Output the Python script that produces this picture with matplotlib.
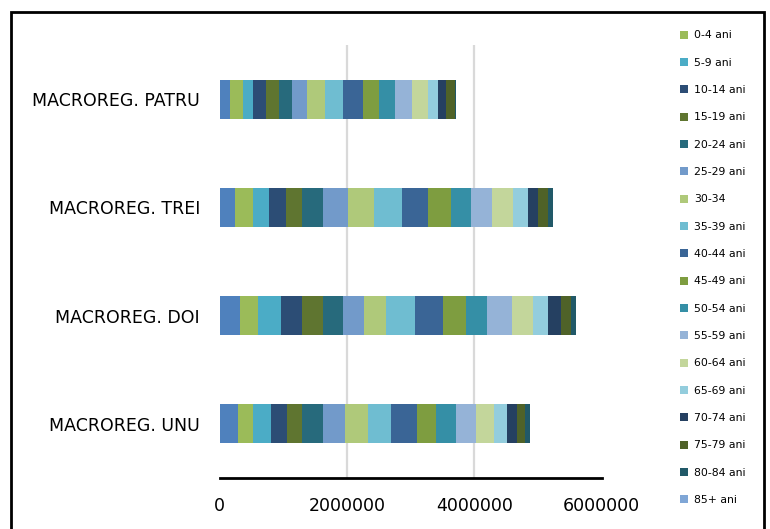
import matplotlib
matplotlib.use("Agg")
import matplotlib.pyplot as plt
from matplotlib.patches import Rectangle

# Macro-regions, bottom to top
regions = ["MACROREG. UNU", "MACROREG. DOI", "MACROREG. TREI", "MACROREG. PATRU"]

# Stacked series; the first one has no legend entry
series_names = ["", "0-4 ani", "5-9 ani", "10-14 ani", "15-19 ani", "20-24 ani",
                "25-29 ani", "30-34", "35-39 ani", "40-44 ani", "45-49 ani",
                "50-54 ani", "55-59 ani", "60-64 ani", "65-69 ani", "70-74 ani",
                "75-79 ani", "80-84 ani", "85+ ani"]

# Values per region, in persons, one per series
unu = [283000, 247000, 283000, 240000, 240000, 325000, 361000, 361000, 361000,
       404000, 292000, 320000, 319000, 283000, 199000, 162000, 121000, 72000, 0]
doi = [325000, 283000, 361000, 324000, 325000, 325000, 319000, 357000, 444000,
       444000, 368000, 319000, 404000, 324000, 242000, 198000, 163000, 79000, 0]
trei = [240000, 283000, 251000, 278000, 247000, 319000, 393000, 413000, 440000,
        408000, 357000, 325000, 319000, 330000, 240000, 157000, 163000, 72000, 0]
patru = [162000, 204000, 163000, 204000, 204000, 204000, 236000, 276000, 289000,
         319000, 247000, 245000, 278000, 247000, 151000, 126000, 137000, 16000, 0]

series_colors = ["#4F81BD", "#9BBB59", "#4BACC6", "#2C4D75", "#5F7530", "#276A7C",
                 "#729ACA", "#AFC97A", "#6FBDD1", "#3A6596", "#7E9D40", "#358FA6",
                 "#95B3D7", "#C3D69B", "#93CDDD", "#254061", "#4F6228", "#215968",
                 "#7FA6D6"]

x_ticks = [0, 2000000, 4000000, 6000000]
x_tick_labels = ["0", "2000000", "4000000", "6000000"]

W, H = 770, 529
fig = plt.figure(figsize=(W / 100, H / 100), dpi=100)
ax = fig.add_axes([219.5 / W, 1 - 478 / H, (601.5 - 219.5) / W, (478 - 45) / H])

rows = [unu, doi, trei, patru]
ypos = list(range(len(regions)))
left = [0] * len(regions)
handles = []
for i, (name, color) in enumerate(zip(series_names, series_colors)):
    vals = [r[i] for r in rows]
    bars = ax.barh(ypos, vals, left=left, height=0.36, color=color,
                   edgecolor="none", zorder=3)
    if name:
        handles.append((bars, name))
    left = [l + v for l, v in zip(left, vals)]

# interior vertical gridlines only
for v in x_ticks[1:-1]:
    ax.axvline(v, color="#D9D9D9", lw=1.6, zorder=1)

ax.set_xlim(x_ticks[0], x_ticks[-1])
ax.set_ylim(-0.5, len(regions) - 0.5)
ax.set_xticks(x_ticks)
ax.set_xticklabels(x_tick_labels, fontsize=12.5)
ax.set_yticks(ypos)
ax.set_yticklabels(regions, fontsize=12.5)
ax.tick_params(axis="x", length=0, pad=14)
ax.tick_params(axis="y", length=0, pad=14)
for side in ("left", "top", "right"):
    ax.spines[side].set_visible(False)
ax.spines["bottom"].set_linewidth(2)
ax.spines["bottom"].set_color("black")

fig.legend([h for h, _ in handles], [n for _, n in handles],
           loc="upper left", bbox_to_anchor=(676 / W, 1 - 26 / H),
           frameon=False, fontsize=7.8, handlelength=0.75, handleheight=0.75,
           handletextpad=0.5, labelspacing=1.6, borderaxespad=0)

# outer chart frame
fig.patches.append(Rectangle((11 / W, -0.1), (764 - 11) / W, 0.1 + 1 - 12 / H,
                             transform=fig.transFigure, fill=False,
                             edgecolor="black", lw=2))

fig.savefig("out.png", dpi=100)
